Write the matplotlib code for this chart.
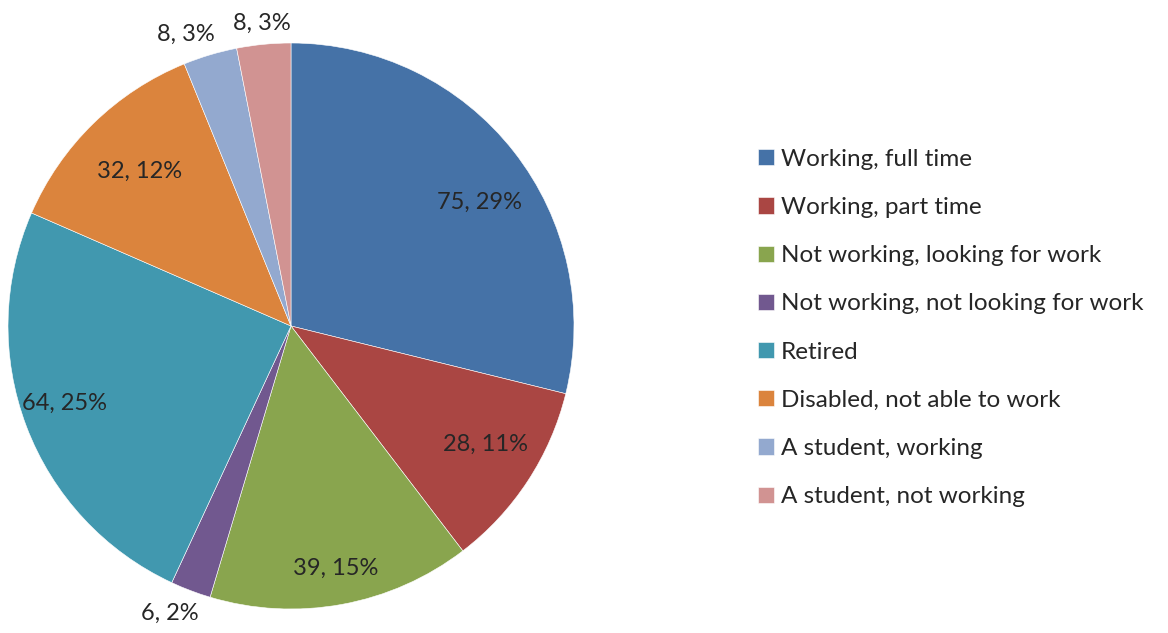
import numpy as np
import matplotlib.pyplot as plt

plt.rcParams['font.family'] = ['Lato', 'DejaVu Sans']

categories = [
    'Working, full time',
    'Working, part time',
    'Not working, looking for work',
    'Not working, not looking for work',
    'Retired',
    'Disabled, not able to work',
    'A student, working',
    'A student, not working',
]
counts = [75, 28, 39, 6, 64, 32, 8, 8]
percents = [29, 11, 15, 2, 25, 12, 3, 3]
colors = ['#4572A7', '#AA4643', '#89A54E', '#71588F',
          '#4198AF', '#DB843D', '#93A9CF', '#D19392']
# radial position of each label (fraction of radius) plus a small nudge in pixels
label_dist = [0.79, 0.80, 0.86, 1.10, 0.83, 0.77, 1.10, 1.08]
label_nudge = [(13, -14), (5, 6), (1, -3), (-11, 4),
               (-7, 6), (1, -1), (-16, -7), (0, -2)]

W, H = 1168, 633
fig = plt.figure(figsize=(W / 100, H / 100), dpi=100)
ax = fig.add_axes([0, 0, 1, 1])

cx, cy, r = 291, 633 - 326, 283
wedges, _ = ax.pie(counts, colors=colors, startangle=90, counterclock=False,
                   center=(cx, cy), radius=r, frame=True,
                   wedgeprops=dict(edgecolor='white', linewidth=0.4))
ax.set_xlim(0, W)
ax.set_ylim(0, H)
ax.set_aspect('equal')
ax.axis('off')

for w, n, p, d, off in zip(wedges, counts, percents, label_dist, label_nudge):
    mid = np.deg2rad((w.theta1 + w.theta2) / 2)
    x = cx + d * r * np.cos(mid)
    y = cy + d * r * np.sin(mid)
    ax.annotate(f'{n}, {p}%', (x, y), xytext=off, textcoords='offset pixels',
                ha='center', va='center', fontsize=17, color='#262626')

leg = ax.legend(wedges, categories, loc='center left',
                bbox_to_anchor=(748 / W, 1 - 328 / H), frameon=False,
                fontsize=17.5, handlelength=0.65, handleheight=0.65,
                handletextpad=0.3, labelspacing=1.12, borderaxespad=0)
for t in leg.get_texts():
    t.set_color('#262626')

fig.savefig('out.png', dpi=100)
